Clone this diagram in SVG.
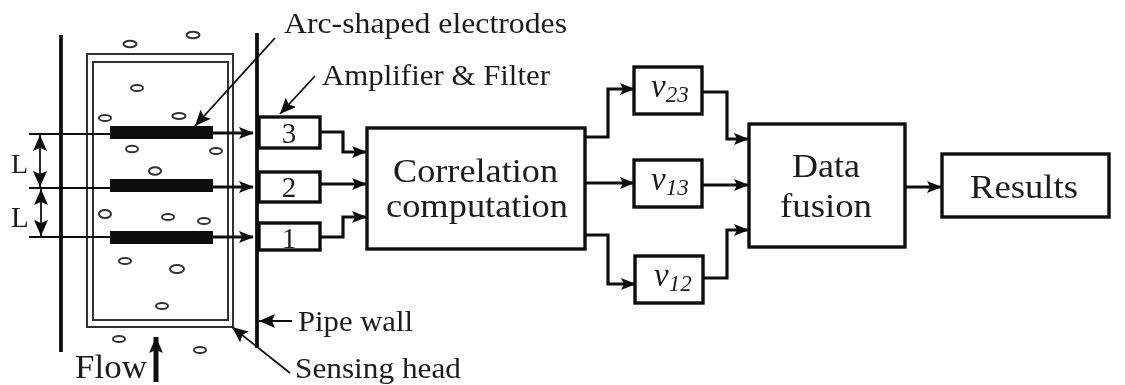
<svg xmlns="http://www.w3.org/2000/svg" width="1125" height="385" viewBox="0 0 1125 385">
<style>
text{font-family:"Liberation Serif",serif;fill:#1c1c1c}
.box{fill:#fff;stroke:#111;stroke-width:3.4}
.w{fill:none;stroke:#111;stroke-width:3.2}
.pw{fill:none;stroke:#111;stroke-width:3.8}
.t{fill:none;stroke:#111;stroke-width:1.8}
.e{fill:#111}
.b{fill:none;stroke:#333;stroke-width:2}
.h{fill:none;stroke:#333;stroke-width:2}
.l{font-size:29px}
.f{font-size:34px}
.n{font-size:29px}
.sub{font-style:italic;font-size:33px}
.s{font-size:23px}
</style>
<defs>
<marker id="ah" markerUnits="userSpaceOnUse" markerWidth="16" markerHeight="12" refX="14" refY="6" orient="auto"><path d="M0 0L15 6L0 12L3 6z" fill="#111"/></marker>
<marker id="as" markerUnits="userSpaceOnUse" markerWidth="18" markerHeight="14" refX="16" refY="7" orient="auto-start-reverse"><path d="M0 0L16 7L0 14L3 7z" fill="#111"/></marker>
<filter id="soft" x="0" y="0" width="100%" height="100%"><feGaussianBlur stdDeviation="0.45"/></filter>
</defs>
<g filter="url(#soft)">
<rect width="1125" height="385" fill="#fff"/>
<g id="pipe">
<line class="pw" x1="61" y1="35" x2="61" y2="352"/>
<line class="pw" x1="257" y1="33" x2="257" y2="348"/>
</g>
<g id="sensing-head">
<rect class="h" x="87" y="54" width="146" height="273"/>
<rect class="h" x="93" y="62" width="135" height="258"/>
</g>
<g id="bubbles">
<ellipse class="b" cx="130" cy="44" rx="6.5" ry="3.2"/>
<ellipse class="b" cx="193" cy="35" rx="6.5" ry="3.2"/>
<ellipse class="b" cx="137" cy="88" rx="6" ry="3"/>
<ellipse class="b" cx="105" cy="118" rx="6" ry="3"/>
<ellipse class="b" cx="179" cy="116" rx="6.5" ry="3"/>
<ellipse class="b" cx="132" cy="149" rx="6" ry="3.2"/>
<ellipse class="b" cx="216" cy="151" rx="6" ry="3"/>
<ellipse class="b" cx="155" cy="171" rx="6" ry="3.8"/>
<ellipse class="b" cx="105" cy="214" rx="6" ry="4"/>
<ellipse class="b" cx="168" cy="217" rx="6" ry="3"/>
<ellipse class="b" cx="204" cy="221" rx="6" ry="3"/>
<ellipse class="b" cx="125" cy="261" rx="6" ry="3"/>
<ellipse class="b" cx="177" cy="269" rx="7" ry="4"/>
<ellipse class="b" cx="162" cy="306" rx="6" ry="3"/>
<ellipse class="b" cx="119" cy="339" rx="6" ry="3"/>
<ellipse class="b" cx="200" cy="350" rx="6" ry="3"/>
</g>
<g id="electrodes">
<rect x="110" y="126" width="103" height="13" class="e"/>
<rect x="110" y="179" width="103" height="13" class="e"/>
<rect x="110" y="231" width="103" height="13" class="e"/>
</g>
<g id="connectors">
<line class="t" x1="29" y1="134" x2="110" y2="134"/>
<line class="t" x1="29" y1="188" x2="110" y2="188"/>
<line class="t" x1="29" y1="237" x2="110" y2="237"/>
<path class="w" d="M213 133H253" marker-end="url(#ah)"/>
<path class="w" d="M213 187H253" marker-end="url(#ah)"/>
<path class="w" d="M213 237H253" marker-end="url(#ah)"/>
<path class="t" d="M40 135V187" marker-start="url(#as)" marker-end="url(#as)"/>
<path class="t" d="M41 189V236" marker-start="url(#as)" marker-end="url(#as)"/>
<path class="t" d="M275 38L195 126" marker-end="url(#as)"/>
<path class="t" d="M315 76L280 114" marker-end="url(#as)"/>
<path class="t" d="M292 321H259" marker-end="url(#as)"/>
<path class="t" d="M290 373L232 327" marker-end="url(#as)"/>
<path d="M156 382V337" fill="none" stroke="#111" stroke-width="5" marker-end="url(#as)"/>
<path class="w" d="M321 132H343V152H366" marker-end="url(#ah)"/>
<path class="w" d="M320 184H366" marker-end="url(#ah)"/>
<path class="w" d="M320 237H343V217H366" marker-end="url(#ah)"/>
<path class="w" d="M585 137H608V89H634" marker-end="url(#ah)"/>
<path class="w" d="M585 183H634" marker-end="url(#ah)"/>
<path class="w" d="M585 235H608V284H635" marker-end="url(#ah)"/>
<path class="w" d="M702 92H727V139H748" marker-end="url(#ah)"/>
<path class="w" d="M702 185H748" marker-end="url(#ah)"/>
<path class="w" d="M703 278H727V230H748" marker-end="url(#ah)"/>
<path class="w" d="M905 187H941" marker-end="url(#ah)"/>
</g>
<g id="amp3"><rect class="box" x="259" y="117" width="61" height="31"/><text class="n" x="289" y="143" text-anchor="middle">3</text></g>
<g id="amp2"><rect class="box" x="259" y="172" width="61" height="30"/><text class="n" x="289" y="197" text-anchor="middle">2</text></g>
<g id="amp1"><rect class="box" x="259" y="223" width="61" height="27"/><text class="n" x="289" y="248" text-anchor="middle">1</text></g>
<g id="correlation"><rect class="box" x="367" y="128" width="218" height="121"/>
<text class="f" x="393" y="182" textLength="165" lengthAdjust="spacingAndGlyphs">Correlation</text>
<text class="f" x="386" y="217" textLength="182" lengthAdjust="spacingAndGlyphs">computation</text></g>
<g id="v23"><rect class="box" x="634" y="67" width="68" height="47"/><text class="sub" x="651" y="97">v<tspan class="s" dy="5">23</tspan></text></g>
<g id="v13"><rect class="box" x="634" y="160" width="68" height="47"/><text class="sub" x="651" y="190">v<tspan class="s" dy="5">13</tspan></text></g>
<g id="v12"><rect class="box" x="635" y="256" width="68" height="47"/><text class="sub" x="654" y="286">v<tspan class="s" dy="5">12</tspan></text></g>
<g id="fusion"><rect class="box" x="749" y="124" width="156" height="123"/>
<text class="f" x="792" y="177" textLength="68" lengthAdjust="spacingAndGlyphs">Data</text>
<text class="f" x="780" y="217" textLength="92" lengthAdjust="spacingAndGlyphs">fusion</text></g>
<g id="results"><rect class="box" x="942" y="154" width="167" height="63"/><text class="f" x="970" y="198" textLength="108" lengthAdjust="spacingAndGlyphs">Results</text></g>
<g id="labels">
<text class="l" x="284" y="33" textLength="283" lengthAdjust="spacingAndGlyphs">Arc-shaped electrodes</text>
<text class="l" x="322" y="85" textLength="228" lengthAdjust="spacingAndGlyphs">Amplifier &amp; Filter</text>
<text class="l" x="298" y="331" textLength="115" lengthAdjust="spacingAndGlyphs">Pipe wall</text>
<text class="l" x="295" y="378" textLength="166" lengthAdjust="spacingAndGlyphs">Sensing head</text>
<text x="75" y="378" style="font-size:33px" textLength="72" lengthAdjust="spacingAndGlyphs">Flow</text>
<text x="11" y="173" style="font-size:28px">L</text>
<text x="11" y="227" style="font-size:29px">L</text>
</g>
</g>
</svg>
